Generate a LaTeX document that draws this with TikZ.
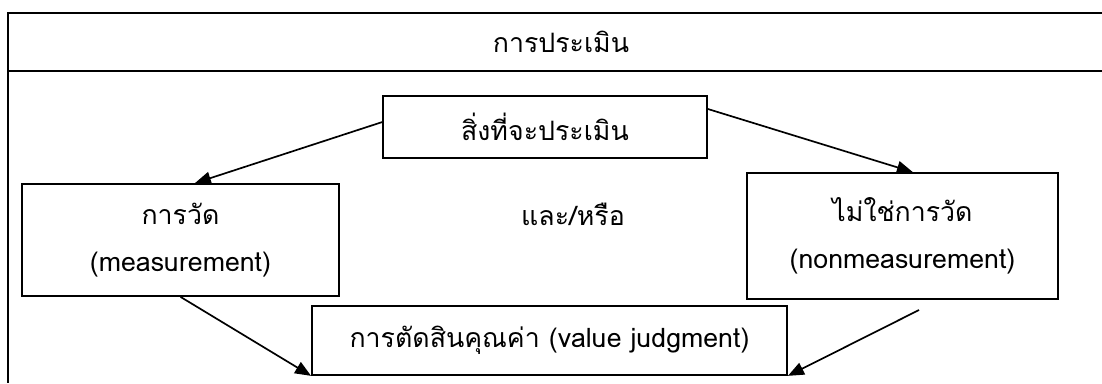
\documentclass[tikz,border=0pt]{standalone}
\usepackage{fontspec}
\setmainfont{Loma}[Script=Thai]
\usepackage{tikz}
\usetikzlibrary{arrows.meta, positioning, calc}
\newcommand{\leadsfrom}[2]
{
	\draw[flow] (#1) -- (#2)
}

\begin{document}
\begin{tikzpicture}[x=0.025cm, y=-0.025cm,
every node/.append style={font=\fontsize{19}{33}\selectfont},
box/.style={shape=rectangle, draw=black, line width=1.2pt, inner sep=0pt, align=center},
flow/.style={line width=1.2pt, -{Triangle[length=4mm, width=3.2mm]}}]

\useasboundingbox (0,0) rectangle (1102,383);

\draw[line width=1.4pt] (1102,13) -- (8,13) -- (8,383);
\draw[line width=1.4pt] (8,71) -- (1102,71);
\node at (561,42) (head){การประเมิน};

\node[box, minimum width=8.1cm, minimum height=1.55cm] at (545,127) (thing){สิ่งที่จะประเมิน};
\node[box, minimum width=7.925cm, minimum height=2.8cm] at (180.5,240) (meas){การวัด\\(measurement)};
\node[box, minimum width=7.775cm, minimum height=3.15cm] at (902.5,236) (nonmeas){ไม่ใช่การวัด\\(nonmeasurement)};
\node[box, minimum width=11.875cm, minimum height=1.725cm] at (549.5,340.5) (judge){การตัดสินคุณค่า (value judgment)};
\node at (573,214) (andor){และ/หรือ};

\coordinate (tail) at (919,310);
\leadsfrom{[yshift=3.5pt]thing.west}{[xshift=0.36cm]meas.north};
\leadsfrom{[yshift=12.8pt]thing.east}{[xshift=0.26cm]nonmeas.north};
\leadsfrom{meas.south}{judge.south west};
\leadsfrom{tail}{judge.south east};
\end{tikzpicture}
\end{document}
